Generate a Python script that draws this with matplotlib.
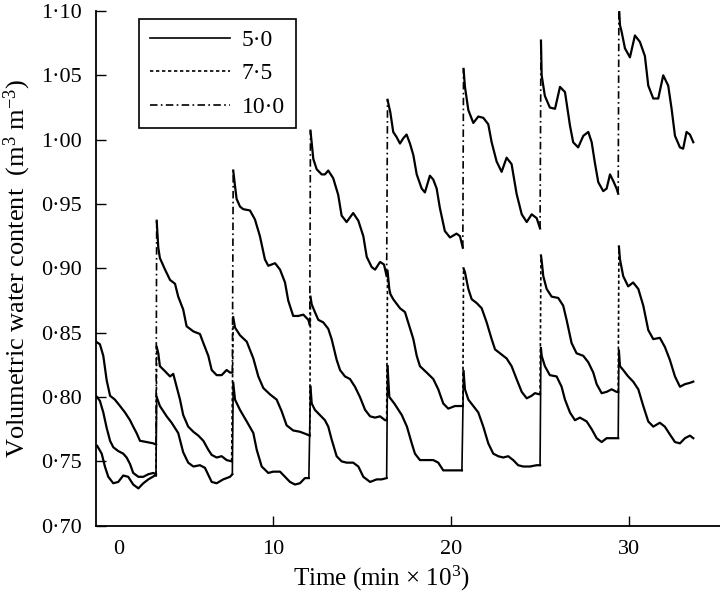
import numpy as np
import matplotlib.pyplot as plt
from matplotlib.lines import Line2D

plt.rcParams['font.family'] = ['Liberation Serif', 'DejaVu Serif']
plt.rcParams['mathtext.fontset'] = 'custom'
plt.rcParams['mathtext.rm'] = 'Liberation Serif'
plt.rcParams['mathtext.default'] = 'regular'

# irrigation events (min x 10^3), same for all three treatments
events = [3.45, 7.75, 12.09, 16.42, 20.69, 25.04, 29.42]

# 5·0 treatment
t_50 = [0.11, 0.36, 0.54, 0.73, 1.01, 1.29, 1.57, 1.85, 2.13, 2.42, 2.70, 2.98, 3.35, 3.41,
        3.45, 3.63, 4.01, 4.29, 4.66, 4.94, 5.22, 5.51, 5.88, 6.16, 6.54, 6.82, 7.19, 7.57, 7.70,
        7.75, 7.85, 8.13, 8.51, 8.88, 9.07, 9.35, 9.72, 10.00, 10.38, 10.66, 10.94, 11.22, 11.50, 11.78, 12.00,
        12.09, 12.16, 12.34, 12.62, 12.90, 13.09, 13.28, 13.56, 13.84, 14.12, 14.49, 14.78, 15.06, 15.44, 15.81, 16.09, 16.37,
        16.42, 16.52, 16.80, 17.22, 17.51, 17.78, 17.96, 18.24, 18.62, 18.99, 19.27, 19.55, 19.93, 20.30, 20.60,
        20.69, 20.77, 20.96, 21.24, 21.52, 21.80, 22.08, 22.36, 22.64, 22.92, 23.20, 23.48, 23.76, 24.04, 24.42, 24.80, 24.99,
        25.04, 25.08, 25.26, 25.54, 25.92, 26.20, 26.39, 26.67, 26.95, 27.23, 27.61, 27.89, 28.17, 28.45, 28.73, 29.01, 29.29, 29.38,
        29.42, 29.48, 29.66, 29.94, 30.22, 30.51, 30.79, 31.07, 31.35, 31.72, 32.00, 32.28, 32.57, 32.85, 33.13, 33.41, 33.60]
wc_50 = [0.762, 0.756, 0.746, 0.738, 0.733, 0.734, 0.739, 0.738, 0.732, 0.729, 0.733, 0.736, 0.739, 0.739,
         0.800, 0.793, 0.785, 0.780, 0.772, 0.757, 0.749, 0.746, 0.747, 0.745, 0.734, 0.733, 0.736, 0.738, 0.740,
         0.811, 0.798, 0.790, 0.781, 0.772, 0.759, 0.746, 0.741, 0.742, 0.742, 0.738, 0.734, 0.732, 0.733, 0.737, 0.737,
         0.808, 0.795, 0.790, 0.786, 0.782, 0.777, 0.767, 0.754, 0.750, 0.749, 0.749, 0.746, 0.738, 0.734, 0.736, 0.736, 0.737,
         0.824, 0.800, 0.795, 0.786, 0.777, 0.764, 0.756, 0.751, 0.751, 0.751, 0.749, 0.743, 0.743, 0.743, 0.743,
         0.820, 0.806, 0.798, 0.793, 0.788, 0.777, 0.764, 0.756, 0.754, 0.753, 0.754, 0.751, 0.747, 0.746, 0.746, 0.747, 0.747,
         0.838, 0.832, 0.824, 0.817, 0.816, 0.808, 0.798, 0.788, 0.782, 0.784, 0.781, 0.775, 0.768, 0.765, 0.768, 0.768, 0.768, 0.768,
         0.836, 0.824, 0.821, 0.816, 0.812, 0.806, 0.793, 0.781, 0.777, 0.780, 0.777, 0.771, 0.765, 0.764, 0.768, 0.770, 0.768]

# 7·5 treatment
t_75 = [0.04, 0.26, 0.45, 0.64, 0.83, 1.01, 1.29, 1.57, 1.76, 1.95, 2.13, 2.42, 2.70, 2.98, 3.26, 3.41,
        3.45, 3.54, 3.63, 3.92, 4.20, 4.38, 4.57, 4.76, 4.94, 5.22, 5.51, 5.79, 6.07, 6.35, 6.54, 6.82, 7.10, 7.38, 7.66,
        7.75, 7.85, 8.13, 8.51, 8.88, 9.16, 9.44, 9.82, 10.19, 10.47, 10.75, 11.12, 11.50, 11.88, 12.05,
        12.09, 12.16, 12.34, 12.53, 12.81, 13.09, 13.28, 13.56, 13.75, 14.03, 14.31, 14.59, 14.87, 15.16, 15.44, 15.72, 16.00, 16.28, 16.37,
        16.42, 16.52, 16.58, 16.74, 17.12, 17.40, 17.58, 17.87, 18.06, 18.24, 18.62, 18.99, 19.27, 19.55, 19.83, 20.21, 20.58, 20.65,
        20.69, 20.77, 20.96, 21.15, 21.43, 21.71, 21.99, 22.27, 22.46, 22.83, 23.11, 23.39, 23.67, 23.96, 24.24, 24.52, 24.70, 24.99,
        25.04, 25.08, 25.17, 25.36, 25.64, 26.01, 26.29, 26.48, 26.76, 27.04, 27.42, 27.70, 27.98, 28.17, 28.45, 28.73, 29.01, 29.29, 29.38,
        29.42, 29.48, 29.66, 29.94, 30.22, 30.51, 30.79, 31.07, 31.35, 31.72, 32.00, 32.28, 32.57, 32.85, 33.13, 33.41, 33.60]
wc_75 = [0.801, 0.797, 0.788, 0.776, 0.766, 0.761, 0.758, 0.756, 0.753, 0.748, 0.741, 0.738, 0.738, 0.740, 0.741, 0.740,
         0.839, 0.834, 0.824, 0.820, 0.816, 0.818, 0.808, 0.798, 0.786, 0.777, 0.773, 0.770, 0.766, 0.759, 0.755, 0.753, 0.754, 0.751, 0.750,
         0.862, 0.854, 0.848, 0.843, 0.830, 0.816, 0.807, 0.802, 0.798, 0.789, 0.778, 0.774, 0.773, 0.771, 0.770,
         0.878, 0.872, 0.866, 0.860, 0.858, 0.853, 0.845, 0.829, 0.821, 0.816, 0.814, 0.808, 0.800, 0.790, 0.785, 0.784, 0.785, 0.782, 0.782,
         0.898, 0.884, 0.880, 0.876, 0.869, 0.866, 0.858, 0.845, 0.832, 0.824, 0.819, 0.814, 0.806, 0.795, 0.791, 0.793, 0.793, 0.793,
         0.900, 0.897, 0.884, 0.876, 0.873, 0.869, 0.858, 0.845, 0.837, 0.833, 0.830, 0.824, 0.814, 0.804, 0.799, 0.801, 0.803, 0.802,
         0.910, 0.906, 0.894, 0.884, 0.878, 0.877, 0.871, 0.860, 0.842, 0.834, 0.832, 0.827, 0.819, 0.810, 0.803, 0.804, 0.806, 0.804, 0.804,
         0.917, 0.907, 0.894, 0.886, 0.889, 0.884, 0.871, 0.852, 0.845, 0.846, 0.839, 0.829, 0.816, 0.808, 0.810, 0.811, 0.812]

# 10·0 treatment
t_100 = [0.04, 0.26, 0.45, 0.64, 0.83, 1.10, 1.39, 1.67, 1.95, 2.13, 2.32, 2.51, 2.89, 3.26, 3.41,
         3.45, 3.54, 3.63, 3.92, 4.20, 4.48, 4.66, 4.94, 5.13, 5.51, 5.88, 6.07, 6.35, 6.54, 6.82, 7.10, 7.38, 7.57, 7.70,
         7.75, 7.85, 7.94, 8.13, 8.31, 8.69, 8.97, 9.25, 9.53, 9.72, 10.10, 10.38, 10.66, 10.84, 11.12, 11.40, 11.69, 11.97, 12.05,
         12.09, 12.25, 12.44, 12.72, 12.90, 13.09, 13.37, 13.65, 13.84, 14.12, 14.49, 14.78, 15.06, 15.25, 15.53, 15.72, 16.00, 16.22, 16.37,
         16.42, 16.58, 16.74, 16.93, 17.12, 17.30, 17.49, 17.68, 17.87, 18.06, 18.34, 18.52, 18.80, 18.99, 19.18, 19.36, 19.64, 19.93, 20.30, 20.49, 20.65,
         20.69, 20.77, 20.96, 21.24, 21.52, 21.80, 22.08, 22.27, 22.55, 22.83, 23.11, 23.39, 23.67, 23.96, 24.24, 24.52, 24.80, 24.99,
         25.04, 25.08, 25.26, 25.54, 25.83, 26.11, 26.39, 26.67, 26.85, 27.13, 27.42, 27.70, 27.89, 28.07, 28.26, 28.54, 28.73, 28.92, 29.10, 29.29, 29.38,
         29.42, 29.48, 29.57, 29.76, 30.04, 30.32, 30.60, 30.88, 31.07, 31.35, 31.63, 31.91, 32.19, 32.38, 32.57, 32.85, 33.03, 33.22, 33.41, 33.60]
wc_100 = [0.843, 0.841, 0.832, 0.813, 0.801, 0.798, 0.793, 0.788, 0.782, 0.777, 0.772, 0.766, 0.765, 0.764, 0.763,
          0.937, 0.916, 0.908, 0.899, 0.891, 0.888, 0.878, 0.868, 0.855, 0.851, 0.849, 0.842, 0.832, 0.821, 0.817, 0.817, 0.821, 0.819, 0.819,
          0.976, 0.964, 0.954, 0.948, 0.946, 0.945, 0.938, 0.925, 0.907, 0.902, 0.904, 0.899, 0.889, 0.875, 0.863, 0.863, 0.864, 0.860, 0.856,
          1.007, 0.985, 0.977, 0.973, 0.973, 0.976, 0.970, 0.957, 0.941, 0.936, 0.943, 0.937, 0.925, 0.909, 0.901, 0.899, 0.905, 0.903, 0.894,
          1.031, 1.021, 1.006, 1.002, 0.997, 1.001, 1.004, 0.997, 0.988, 0.973, 0.962, 0.959, 0.972, 0.969, 0.962, 0.947, 0.929, 0.924, 0.927, 0.925, 0.916,
          1.055, 1.041, 1.023, 1.013, 1.018, 1.017, 1.012, 0.998, 0.983, 0.975, 0.986, 0.981, 0.958, 0.942, 0.936, 0.942, 0.939, 0.931,
          1.077, 1.050, 1.034, 1.025, 1.024, 1.041, 1.037, 1.011, 0.998, 0.994, 1.003, 1.006, 0.998, 0.982, 0.967, 0.960, 0.962, 0.973, 0.968, 0.962, 0.958,
          1.105, 1.089, 1.084, 1.071, 1.064, 1.081, 1.076, 1.065, 1.042, 1.032, 1.032, 1.050, 1.042, 1.024, 1.003, 0.994, 0.993, 1.006, 1.004, 0.998]

labels = ['5·0', '7·5', '10·0']
styles = ['-', (0, (2, 1.6)), (0, (4.5, 2, 1, 2))]
x_ticks = [10, 20, 30]
x_ticklabels = ['0', '10', '20', '30']
y_ticks = [0.70, 0.75, 0.80, 0.85, 0.90, 0.95, 1.00, 1.05, 1.10]
y_ticklabels = ['0·70', '0·75', '0·80', '0·85', '0·90', '0·95', '1·00', '1·05', '1·10']


def draw_series(ax, t, wc, style):
    t = np.asarray(t)
    wc = np.asarray(wc)
    idx = np.searchsorted(t, events)
    bounds = [0] + list(idx) + [len(t)]
    # drainage curves are drawn solid, only the refill jumps show the line style
    for a, b in zip(bounds[:-1], bounds[1:]):
        ax.plot(t[a:b], wc[a:b], color='black', lw=1.6)
    for i in idx:
        ax.plot(t[i-1:i+1], wc[i-1:i+1], color='black', lw=1.2, linestyle=style)


fig = plt.figure(figsize=(7.2, 5.94), dpi=100)
ax = fig.add_axes([96/720, (594-525.7)/594, 624/720, (525.7-11)/594])

for t, wc, ls in zip([t_50, t_75, t_100], [wc_50, wc_75, wc_100], styles):
    draw_series(ax, t, wc, ls)

ax.set_xlim(0.04, 35.1)
ax.set_ylim(0.70, 1.10)
# the "0" label sits a little right of the y axis in the original
ax.set_xticks([1.33] + x_ticks, labels=x_ticklabels)
ax.xaxis.get_major_ticks()[0].tick1line.set_visible(False)
ax.set_yticks(y_ticks, labels=y_ticklabels)
ax.tick_params(direction='in', length=7, width=1.0, pad=10, labelsize=16)
for s in ['top', 'right']:
    ax.spines[s].set_visible(False)
for s in ['left', 'bottom']:
    ax.spines[s].set_linewidth(1.3)

ax.set_xlabel('Time (min × 10$^3$)', fontsize=18)
ax.xaxis.set_label_coords(0.4575, -0.075)
ax.set_ylabel('Volumetric water content  (m$^3$ m$^{-3}$)', fontsize=19, labelpad=6)

handles = [Line2D([], [], color='black', lw=1.2, linestyle=ls) for ls in styles]
leg = ax.legend(handles, labels, loc='upper left', bbox_to_anchor=(0.069, 0.9845),
                borderaxespad=0, fontsize=17, handlelength=3.4, handletextpad=0.5,
                labelspacing=0.5, borderpad=0.45, fancybox=False, framealpha=1,
                edgecolor='black')
leg.get_frame().set_linewidth(1.2)

fig.savefig('out.png', dpi=100)
